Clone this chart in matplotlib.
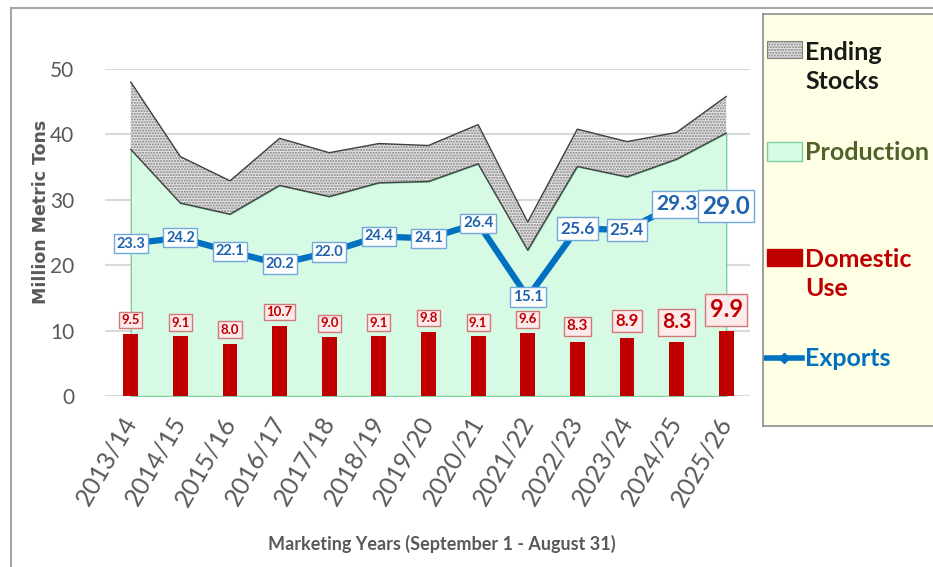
import numpy as np
import matplotlib
matplotlib.use("Agg")
import matplotlib.pyplot as plt
from matplotlib.patches import Rectangle
from matplotlib.lines import Line2D

# Marketing years and supply/use series (million metric tons)
years = ["2013/14", "2014/15", "2015/16", "2016/17", "2017/18", "2018/19", "2019/20",
         "2020/21", "2021/22", "2022/23", "2023/24", "2024/25", "2025/26"]
production = [37.7, 29.5, 27.8, 32.2, 30.5, 32.6, 32.8, 35.5, 22.3, 35.1, 33.5, 36.2, 40.2]
ending_stocks = [10.3, 7.1, 5.1, 7.2, 6.7, 6.0, 5.5, 6.0, 4.3, 5.7, 5.4, 4.1, 5.6]
exports = [23.3, 24.2, 22.1, 20.2, 22.0, 24.4, 24.1, 26.4, 15.1, 25.6, 25.4, 29.3, 29.0]
domestic_use = [9.5, 9.1, 8.0, 10.7, 9.0, 9.1, 9.8, 9.1, 9.6, 8.3, 8.9, 8.3, 9.9]

# label font sizes (later years are emphasised)
exp_fs = [10.5, 10.5, 10.5, 10.5, 10.5, 10.5, 10.5, 11, 11, 12.5, 12.5, 15, 17.5]
dom_fs = [9.5, 9.5, 9.5, 9.5, 9.5, 9.5, 9.5, 9.5, 9.5, 11, 12, 15, 17]

GRAY = "#595959"
BLUE = "#0070C0"
RED = "#C00000"
MINT = "#D6FAE4"
FONT = "Lato"

W, H = 933, 567
fig = plt.figure(figsize=(W / 100, H / 100), dpi=100)

# outer frame
fig.patches.append(Rectangle((11 / W, -0.05), 1.1, 1.05 - 8 / H, transform=fig.transFigure,
                             fill=False, edgecolor="#a6a6a6", linewidth=1.5))

ax = fig.add_axes([105 / W, (H - 396) / H, 645 / W, 327 / H])
x = np.arange(len(years))
top = np.array(production) + np.array(ending_stocks)

ax.fill_between(x, 0, production, facecolor=MINT, edgecolor="#7ccf9f", linewidth=1, zorder=1)
ax.fill_between(x, production, top, facecolor="#e3e3e3", edgecolor="#808080",
                hatch="......", linewidth=0, zorder=2)
ax.plot(x, production, color="#404040", linewidth=1, zorder=3)
ax.plot(x, top, color="#404040", linewidth=1, zorder=3)

ax.bar(x, domestic_use, width=0.3, color=RED, zorder=4)
ax.plot(x, exports, color=BLUE, linewidth=4.5, marker="D", markersize=5, zorder=5)

for i, v in enumerate(exports):
    ax.text(x[i], v, f"{v:.1f}", ha="center", va="center", fontsize=exp_fs[i],
            fontweight="bold", family=FONT, color="#1f63ad", zorder=6,
            bbox=dict(boxstyle="square,pad=0.18", facecolor="white", edgecolor="#6fa8dc", linewidth=1))

for i, v in enumerate(domestic_use):
    fs = dom_fs[i]
    ax.annotate(f"{v:.1f}", (x[i], v), xytext=(0, 4 + 0.18 * fs), textcoords="offset points",
                ha="center", va="bottom", fontsize=fs, fontweight="bold", family=FONT,
                color=RED, zorder=6,
                bbox=dict(boxstyle="square,pad=0.18", facecolor="#fdeaea", edgecolor="#d27878", linewidth=1))

ax.set_xlim(-0.52, 12.48)
ax.set_ylim(0, 50)
ax.set_yticks([0, 10, 20, 30, 40, 50])
ax.yaxis.grid(True, color="#d9d9d9", linewidth=1.5)
ax.set_axisbelow(True)
for s in ax.spines.values():
    s.set_visible(False)
ax.tick_params(axis="both", length=0)
ax.tick_params(axis="y", pad=22, labelsize=15, labelcolor=GRAY)
ax.tick_params(axis="x", pad=16, labelsize=18, labelcolor=GRAY)
for lab in ax.get_yticklabels():
    lab.set_family(FONT)
ax.set_xticks(x)
ax.set_xticklabels(years, rotation=60, ha="right", va="center", rotation_mode="anchor", family=FONT)

fig.text(41 / W, 1 - 212 / H, "Million Metric Tons", rotation=90, ha="center", va="center",
         fontsize=12.5, fontweight="bold", color=GRAY, family="DejaVu Sans")
fig.text(442 / W, 1 - 544 / H, "Marketing Years (September 1 - August 31)", ha="center",
         va="center", fontsize=13, fontweight="bold", color=GRAY, family=FONT)

# legend panel
lg = fig.add_axes([763 / W, (H - 426) / H, 180 / W, 412 / H])
lg.set_xlim(763, 943)
lg.set_ylim(426, 14)
lg.set_facecolor("#FFFFE6")
lg.set_xticks([])
lg.set_yticks([])
for s in lg.spines.values():
    s.set_edgecolor("#8c8c8c")
    s.set_linewidth(1.2)

lg.add_patch(Rectangle((767, 41), 35, 17, facecolor="#e3e3e3", edgecolor="#808080",
                       hatch="......", linewidth=0.8))
lg.add_patch(Rectangle((767, 142), 35, 19, facecolor=MINT, edgecolor="#7ccf9f", linewidth=1))
lg.add_patch(Rectangle((767, 249), 35, 17, facecolor=RED, edgecolor=RED))
lg.add_line(Line2D([766, 784, 802], [358, 358, 358], color=BLUE, linewidth=4,
                   marker="D", markersize=5, markevery=[1]))

lfs = 18
lg.text(805, 67, "Ending\nStocks", ha="left", va="center", fontsize=lfs, fontweight="bold",
        family=FONT, color="#1a1a1a", linespacing=1.3)
lg.text(805, 152, "Production", ha="left", va="center", fontsize=lfs, fontweight="bold",
        family=FONT, color="#4F6228")
lg.text(805, 274, "Domestic\nUse", ha="left", va="center", fontsize=lfs, fontweight="bold",
        family=FONT, color=RED, linespacing=1.3)
lg.text(805, 358, "Exports", ha="left", va="center", fontsize=lfs, fontweight="bold",
        family=FONT, color=BLUE)

fig.savefig("out.png", dpi=100, facecolor="white")
